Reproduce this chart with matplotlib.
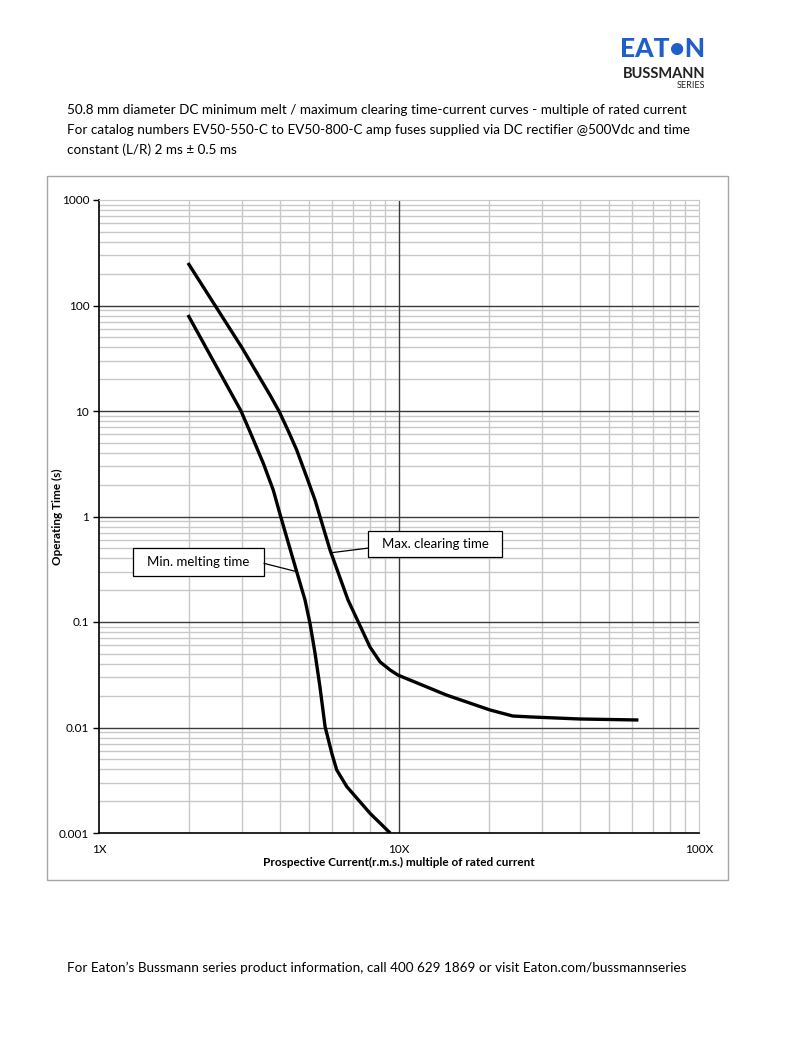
import matplotlib
matplotlib.use("Agg")
import matplotlib.pyplot as plt
from matplotlib.patches import Rectangle
from matplotlib.ticker import LogLocator, FixedLocator, NullFormatter

plt.rcParams['font.family'] = ['Lato', 'DejaVu Sans']

# (multiple of rated current, seconds)
max_clear_x = [1.98, 3.0, 3.715, 3.99, 4.276, 4.56, 4.92, 5.25, 5.89, 6.76, 8.0, 8.65,
               9.34, 9.92, 14.4, 20.1, 23.95, 27.3, 40.1, 62.8]
max_clear_y = [253, 39.6, 14.18, 9.85, 6.46, 4.27, 2.38, 1.43, 0.481, 0.162, 0.058, 0.0418,
               0.0351, 0.0314, 0.0203, 0.01466, 0.01285, 0.0126, 0.01204, 0.01178]

min_melt_x = [1.98, 2.974, 3.186, 3.53, 3.81, 4.01, 4.28, 4.56, 4.86, 5.05, 5.25, 5.45,
              5.67, 5.97, 6.20, 6.70, 7.32, 8.0, 8.65, 9.34]
min_melt_y = [81.3, 10.0, 6.37, 3.19, 1.78, 1.056, 0.557, 0.300, 0.162, 0.0972, 0.0505,
              0.0244, 0.0102, 0.0057, 0.00396, 0.00275, 0.00206, 0.00154, 0.00124, 0.001]

x_ticks = [1, 10, 100]
x_labels = ["1X", "10X", "100X"]
y_ticks = [0.001, 0.01, 0.1, 1, 10, 100, 1000]
y_labels = ["0.001", "0.01", "0.1", "1", "10", "100", "1000"]

title_lines = [
    "50.8 mm diameter DC minimum melt / maximum clearing time-current curves - multiple of rated current",
    "For catalog numbers EV50-550-C to EV50-800-C amp fuses supplied via DC rectifier @500Vdc and time",
    "constant (L/R) 2 ms \u00b1 0.5 ms",
]
footer = "For Eaton\u2019s Bussmann series product information, call 400 629 1869 or visit Eaton.com/bussmannseries"

W, H = 803, 1042
fig = plt.figure(figsize=(W / 100, H / 100), dpi=100)

def fx(px):
    return px / W

def fy(py):
    return 1 - py / H

# outer chart frame
fig.patches.append(Rectangle((fx(47), fy(880)), fx(728) - fx(47), fy(176) - fy(880),
                             transform=fig.transFigure, fill=False,
                             edgecolor="#a6a6a6", linewidth=1))

ax = fig.add_axes([fx(99), fy(833), fx(699) - fx(99), fy(200) - fy(833)])
ax.set_xscale("log")
ax.set_yscale("log")
ax.set_xlim(1, 100)
ax.set_ylim(0.001, 1000)

ax.xaxis.set_minor_locator(LogLocator(base=10, subs=range(2, 10)))
ax.yaxis.set_minor_locator(LogLocator(base=10, subs=range(2, 10)))
ax.xaxis.set_minor_formatter(NullFormatter())
ax.yaxis.set_minor_formatter(NullFormatter())
ax.xaxis.set_major_locator(FixedLocator(x_ticks))
ax.yaxis.set_major_locator(FixedLocator(y_ticks))
ax.set_xticklabels(x_labels)
ax.set_yticklabels(y_labels)

ax.grid(which="minor", color="#c8c8c8", linewidth=1)
# darker decade lines inside the plot
for yv in y_ticks[1:-1]:
    ax.axhline(yv, color="#3a3a3a", linewidth=1, zorder=1)
ax.axvline(10, color="#3a3a3a", linewidth=1, zorder=1)
ax.set_axisbelow(True)

for s in ["top", "right"]:
    ax.spines[s].set_color("#c8c8c8")
for s in ["left", "bottom"]:
    ax.spines[s].set_color("black")
    ax.spines[s].set_linewidth(1.2)

ax.tick_params(axis="x", which="both", length=0, pad=8, labelsize=8.5)
ax.tick_params(axis="y", which="major", length=4, width=1, pad=3, labelsize=8.5)
ax.tick_params(axis="y", which="minor", length=0)

ax.plot(max_clear_x, max_clear_y, color="black", linewidth=2.4, solid_joinstyle="round",
        solid_capstyle="butt", zorder=3)
ax.plot(min_melt_x, min_melt_y, color="black", linewidth=2.4, solid_joinstyle="round",
        solid_capstyle="butt", zorder=3)

ax.set_xlabel("Prospective Current(r.m.s.) multiple of rated current",
              fontsize=8.5, fontweight="bold", labelpad=1)
ax.set_ylabel("Operating Time (s)", fontsize=8.5, fontweight="bold")
ax.yaxis.set_label_coords(-0.06, 0.5)

# callout boxes (axes fraction) with leader lines to the curves
def callout(text, x0, y0, x1, y1, anchor, target):
    ax.add_patch(Rectangle((x0, y0), x1 - x0, y1 - y0, transform=ax.transAxes,
                           facecolor="white", edgecolor="black", linewidth=0.9, zorder=4))
    ax.text((x0 + x1) / 2, (y0 + y1) / 2, text, transform=ax.transAxes, fontsize=9.5,
            ha="center", va="center", zorder=5)
    ax.annotate("", xy=target, xycoords="data", xytext=anchor, textcoords="axes fraction",
                arrowprops=dict(arrowstyle="-", color="black", linewidth=0.9,
                                shrinkA=0, shrinkB=0), zorder=4)

callout("Min. melting time", 0.0567, 0.406, 0.275, 0.450, (0.275, 0.426), (4.56, 0.30))
callout("Max. clearing time", 0.448, 0.436, 0.672, 0.477, (0.448, 0.450), (6.0, 0.455))

for i, line in enumerate(title_lines):
    fig.text(fx(67), fy(110 + i * 20), line, fontsize=9.75, ha="left", va="center")

fig.text(fx(67), fy(968), footer, fontsize=9.7, ha="left", va="center")

# logo
fig.text(fx(705), fy(49), "EAT\u2022N", fontsize=19, fontweight="black", color="#1f5fc8",
         ha="right", va="center")
fig.text(fx(705), fy(74), "BUSSMANN", fontsize=10.5, fontweight="bold", color="#222222",
         ha="right", va="center")
fig.text(fx(705), fy(86), "SERIES", fontsize=6.5, color="#222222", ha="right", va="center")

fig.savefig("out.png", dpi=100)
